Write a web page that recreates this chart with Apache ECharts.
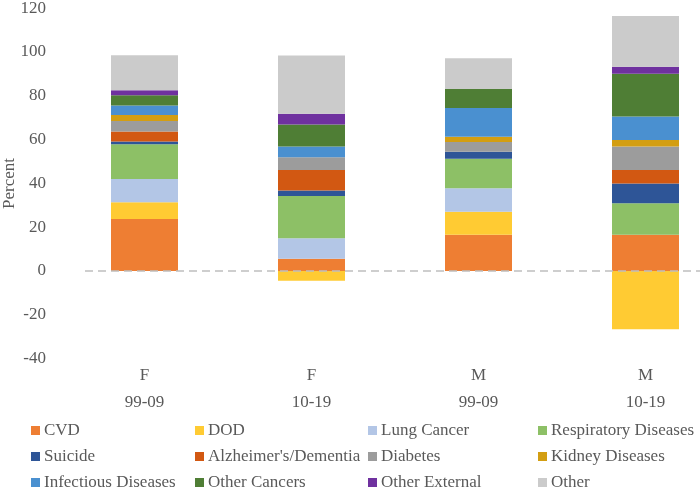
<!DOCTYPE html>
<html>
<head>
<meta charset="utf-8">
<script src="https://cdn.jsdelivr.net/npm/echarts@6/dist/echarts.min.js"></script>
<style>html,body{margin:0;padding:0;background:#fff}#c{width:700px;height:491px}</style>
</head>
<body>
<div id="c"></div>
<script>
var categories = ['F\n99-09', 'F\n10-19', 'M\n99-09', 'M\n10-19'];
var seriesNames = ['CVD', 'DOD', 'Lung Cancer', 'Respiratory Diseases', 'Suicide', "Alzheimer's/Dementia", 'Diabetes', 'Kidney Diseases', 'Infectious Diseases', 'Other Cancers', 'Other External', 'Other'];
var cvd = [23.7, 5.6, 16.6, 16.6];
var dod = [7.7, -4.4, 10.5, -26.6];
var lungCancer = [10.6, 9.3, 10.7, 0];
var respiratory = [15.9, 19.3, 13.5, 14.3];
var suicide = [1.2, 2.6, 3.1, 9.0];
var alzheimers = [4.6, 9.3, 0, 6.2];
var diabetes = [4.8, 5.8, 4.5, 10.7];
var kidney = [2.7, 0, 2.4, 3.0];
var infectious = [4.4, 4.9, 13.1, 10.7];
var otherCancers = [4.7, 10.1, 8.7, 19.6];
var otherExternal = [2.2, 4.9, 0, 3.2];
var other = [16.0, 26.6, 14.0, 23.1];
var yTicks = [-40, -20, 0, 20, 40, 60, 80, 100, 120];

var allData = [cvd, dod, lungCancer, respiratory, suicide, alzheimers, diabetes, kidney, infectious, otherCancers, otherExternal, other];
var colors = ['#EE7E33', '#FFCB33', '#B3C6E6', '#8DC066', '#2E5597', '#D25812', '#9C9C9C', '#D39E12', '#4A90D0', '#4F7E35', '#6F319F', '#CBCBCB'];
var font = 'Liberation Serif';

var series = seriesNames.map(function (n, i) {
  var s = {
    name: n, type: 'bar', stack: 'total', data: allData[i], barWidth: 67,
    itemStyle: { color: colors[i] }
  };
  if (i === 0) {
    s.markLine = {
      silent: true, symbol: 'none', label: { show: false },
      lineStyle: { color: '#BFBFBF', type: [8, 5], width: 1.5 },
      data: [[{ x: 85, yAxis: 0 }, { x: 700, yAxis: 0 }]]
    };
  }
  return s;
});

var cols = [
  { left: 31, data: ['CVD', 'Suicide', 'Infectious Diseases'] },
  { left: 195, data: ['DOD', "Alzheimer's/Dementia", 'Other Cancers'] },
  { left: 368, data: ['Lung Cancer', 'Diabetes', 'Other External'] },
  { left: 538, data: ['Respiratory Diseases', 'Kidney Diseases', 'Other'] }
];
var legends = cols.map(function (c) {
  return {
    orient: 'vertical', left: c.left, top: 422, height: 90, data: c.data,
    icon: 'rect', itemWidth: 9, itemHeight: 9, itemGap: 9, padding: 0,
    selectedMode: false,
    textStyle: { fontFamily: font, fontSize: 17, color: '#595959', lineHeight: 17, padding: [0, 0, 0, -1] }
  };
});

var chart = echarts.init(document.getElementById('c'));
chart.setOption({
  animation: false,
  color: colors,
  textStyle: { fontFamily: font },
  grid: { left: 61, top: 8.2, width: 668, bottom: 132.4, outerBoundsMode: 'none', containLabel: false },
  legend: legends,
  xAxis: {
    type: 'category', data: categories,
    axisLine: { show: false }, axisTick: { show: false },
    axisLabel: { fontFamily: font, fontSize: 17, color: '#595959', lineHeight: 27, margin: 3, verticalAlign: 'top' }
  },
  yAxis: {
    type: 'value', min: yTicks[0], max: yTicks[yTicks.length - 1], interval: 20,
    name: 'Percent', nameLocation: 'middle', nameGap: 43, nameMoveOverlap: false,
    nameTextStyle: { fontFamily: font, fontSize: 17, color: '#595959' },
    axisLine: { show: false }, axisTick: { show: false }, splitLine: { show: false },
    axisLabel: { fontFamily: font, fontSize: 17, color: '#595959', margin: 15 }
  },
  series: series
});
</script>
</body>
</html>
